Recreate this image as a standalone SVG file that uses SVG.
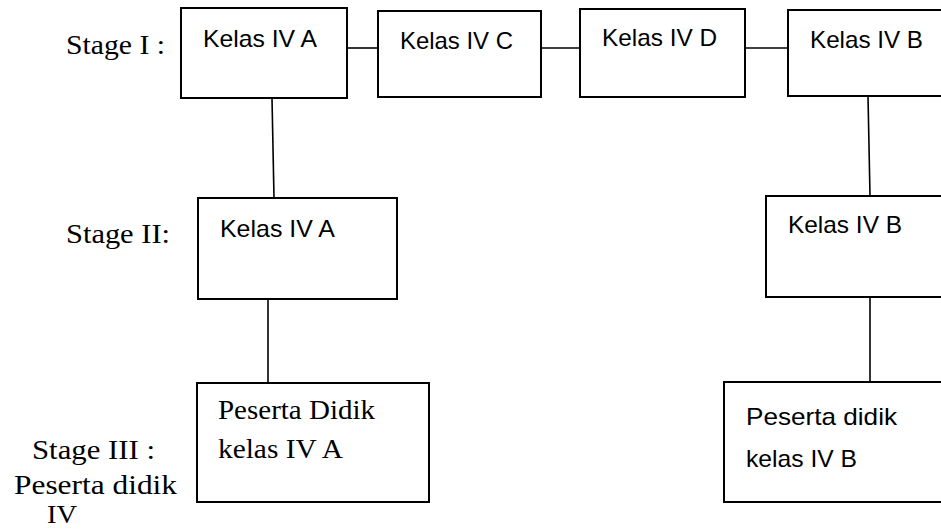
<svg xmlns="http://www.w3.org/2000/svg" width="941" height="529" viewBox="0 0 941 529">
<style>
.box{fill:#fff;stroke:#000;stroke-width:2}
.ln{stroke:#000;stroke-width:1.6;fill:none}
.sans{font-family:"Liberation Sans",Arial,sans-serif;font-size:24px;fill:#000}
.serif{font-family:"Liberation Serif","Times New Roman",serif;font-size:27px;fill:#000}
</style>
<rect width="941" height="529" fill="#fff"/>
<g id="connectors">
<line class="ln" x1="347" y1="48" x2="378" y2="48"/>
<line class="ln" x1="541" y1="48" x2="580" y2="48"/>
<line class="ln" x1="745" y1="48" x2="788" y2="48"/>
<line class="ln" x1="272" y1="98" x2="274" y2="198"/>
<line class="ln" x1="268" y1="297" x2="268" y2="383"/>
<line class="ln" x1="868" y1="96" x2="870" y2="196"/>
<line class="ln" x1="870" y1="297" x2="870" y2="382"/>
</g>
<g id="labels">
<text class="serif" x="66" y="54" textLength="99" lengthAdjust="spacingAndGlyphs">Stage I :</text>
<text class="serif" x="66" y="243" textLength="104" lengthAdjust="spacingAndGlyphs">Stage II:</text>
<text class="serif"><tspan x="32" y="459" textLength="123" lengthAdjust="spacingAndGlyphs">Stage III :</tspan><tspan x="14" y="494" textLength="163" lengthAdjust="spacingAndGlyphs">Peserta didik</tspan><tspan x="47" y="523" font-size="25" textLength="30" lengthAdjust="spacingAndGlyphs">IV</tspan></text>
</g>
<g id="s1-a">
<rect class="box" x="181" y="8" width="166" height="90"/>
<text class="sans" x="203" y="47" textLength="114" lengthAdjust="spacingAndGlyphs">Kelas IV A</text>
</g>
<g id="s1-c">
<rect class="box" x="378" y="11" width="163" height="86"/>
<text class="sans" x="400" y="49" textLength="113" lengthAdjust="spacingAndGlyphs">Kelas IV C</text>
</g>
<g id="s1-d">
<rect class="box" x="580" y="9" width="165" height="88"/>
<text class="sans" x="602" y="46" textLength="115" lengthAdjust="spacingAndGlyphs">Kelas IV D</text>
</g>
<g id="s1-b">
<rect class="box" x="788" y="10" width="160" height="86"/>
<text class="sans" x="810" y="48" textLength="113" lengthAdjust="spacingAndGlyphs">Kelas IV B</text>
</g>
<g id="s2-a">
<rect class="box" x="198" y="198" width="199" height="101"/>
<text class="sans" x="220" y="237" textLength="115" lengthAdjust="spacingAndGlyphs">Kelas IV A</text>
</g>
<g id="s2-b">
<rect class="box" x="766" y="196" width="182" height="101"/>
<text class="sans" x="788" y="233" textLength="114" lengthAdjust="spacingAndGlyphs">Kelas IV B</text>
</g>
<g id="s3-a">
<rect class="box" x="197" y="383" width="232" height="119"/>
<text class="serif" x="218" y="419" textLength="157" lengthAdjust="spacingAndGlyphs">Peserta Didik</text>
<text class="serif" x="218" y="458" textLength="125" lengthAdjust="spacingAndGlyphs">kelas IV A</text>
</g>
<g id="s3-b">
<rect class="box" x="724" y="382" width="224" height="120"/>
<text class="sans" x="746" y="425" textLength="151" lengthAdjust="spacingAndGlyphs">Peserta didik</text>
<text class="sans" x="746" y="467" textLength="111" lengthAdjust="spacingAndGlyphs">kelas IV B</text>
</g>
</svg>
